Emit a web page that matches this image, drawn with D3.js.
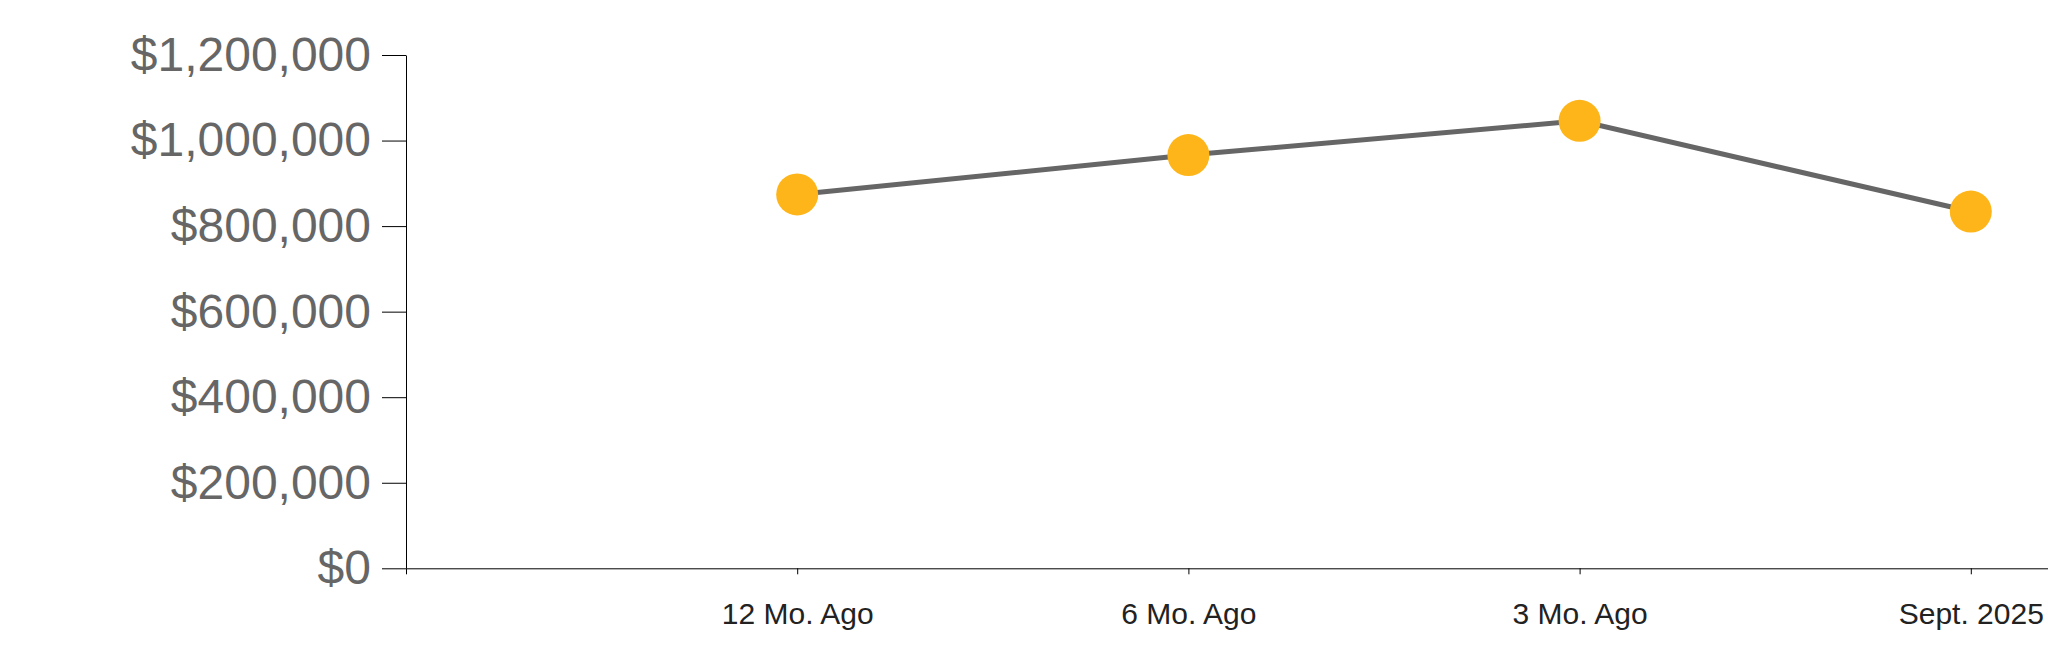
<!DOCTYPE html>
<html>
<head>
<meta charset="utf-8">
<script src="https://cdnjs.cloudflare.com/ajax/libs/d3/7.8.5/d3.min.js"></script>
<style>
  html, body { margin: 0; padding: 0; background: #fff; overflow: hidden; }
  svg { display: block; font-family: "Liberation Sans", Arial, sans-serif; }
</style>
</head>
<body>
<div id="chart"></div>
<script>
// chart values
var periods = ['12 Mo. Ago', '6 Mo. Ago', '3 Mo. Ago', 'Sept. 2025'];
var prices = [874000, 966000, 1046000, 834000];
var yTicks = [0, 200000, 400000, 600000, 800000, 1000000, 1200000];

var width = 2048,
    height = 663;

var svg = d3.select('#chart').append('svg')
    .attr('width', width)
    .attr('height', height);

var xScale = d3.scalePoint()
    .domain(periods)
    .range([406, 2362])
    .padding(1);

var yScale = d3.scaleLinear()
    .domain([0, 1200000])
    .range([568.3, 55]);

var fmt = d3.format('$,');

// y axis
var yAxis = svg.append('g')
    .attr('transform', 'translate(406,0)')
    .call(d3.axisLeft(yScale)
      .tickValues(yTicks)
      .tickFormat(fmt)
      .tickSizeInner(24)
      .tickSizeOuter(0)
      .tickPadding(11));

yAxis.selectAll('text')
    .style('font-size', '48px')
    .style('fill', '#666666')
    .style('font-family', '"Liberation Sans", Arial, sans-serif');
yAxis.selectAll('line, path').attr('stroke', '#000');

// x axis
var xAxis = svg.append('g')
    .attr('transform', 'translate(0,568.3)')
    .call(d3.axisBottom(xScale)
      .tickSizeInner(6)
      .tickSizeOuter(6)
      .tickPadding(28));

xAxis.selectAll('text')
    .style('font-size', '30px')
    .style('fill', '#222222')
    .style('font-family', '"Liberation Sans", Arial, sans-serif');
xAxis.selectAll('line, path').attr('stroke', '#000');

// line
var line = d3.line()
    .x(function(d, i) { return xScale(periods[i]); })
    .y(function(d) { return yScale(d); });

svg.append('path')
    .datum(prices)
    .attr('d', line)
    .attr('fill', 'none')
    .attr('stroke', '#666666')
    .attr('stroke-width', 5);

// points
svg.selectAll('circle.pt')
    .data(prices)
    .enter().append('circle')
    .attr('class', 'pt')
    .attr('cx', function(d, i) { return xScale(periods[i]); })
    .attr('cy', function(d) { return yScale(d); })
    .attr('r', 21)
    .style('fill', '#FDB51A');
</script>
</body>
</html>
